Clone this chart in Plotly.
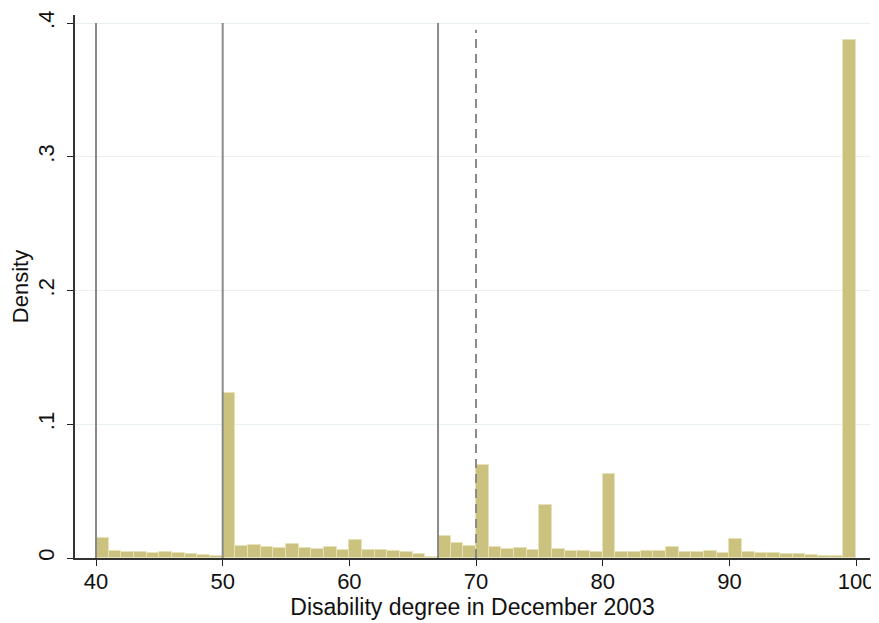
import plotly.graph_objects as go

bin_start = 40
bin_width = 1
density = [
    0.015, 0.005, 0.0045, 0.0043, 0.0041, 0.0045, 0.0038, 0.003, 0.0022, 0.0012,
    0.1235, 0.009, 0.0096, 0.0086, 0.0074, 0.0104, 0.0078, 0.0071, 0.0082, 0.006,
    0.0135, 0.0057, 0.006, 0.0055, 0.0043, 0.003, 0.001, 0.0165, 0.011, 0.0088,
    0.0695, 0.0083, 0.0071, 0.0072, 0.006, 0.0397, 0.0066, 0.0055, 0.0055, 0.0044,
    0.0628, 0.0046, 0.0047, 0.0056, 0.0054, 0.008, 0.0047, 0.0047, 0.005, 0.0039,
    0.014, 0.0042, 0.0036, 0.0035, 0.0028, 0.003, 0.002, 0.0015, 0.0012, 0.3875,
]
solid_lines = [40, 50, 67]
dashed_lines = [70]
x_ticks = [40, 50, 60, 70, 80, 90, 100]
y_ticks = [0, 0.1, 0.2, 0.3, 0.4]
y_tick_labels = ["0", ".1", ".2", ".3", ".4"]

centers = [bin_start + bin_width * (i + 0.5) for i in range(len(density))]

fig = go.Figure()
fig.add_trace(go.Bar(
    x=centers, y=density, width=bin_width,
    marker=dict(color="#CBC27F", line=dict(color="#E6E1B6", width=1)),
    hoverinfo="x+y",
))

for xv in solid_lines:
    fig.add_shape(type="line", x0=xv, x1=xv, y0=0, y1=0.4, xref="x", yref="y",
                  line=dict(color="#8A8A8A", width=2), layer="above")
for xv in dashed_lines:
    fig.add_shape(type="line", x0=xv, x1=xv, y0=0, y1=0.395, xref="x", yref="y",
                  line=dict(color="#8A8A8A", width=2, dash="9px,6px"), layer="above")

font_family = "Liberation Sans, Arial, Helvetica, sans-serif"
fig.update_layout(
    width=871, height=615,
    margin=dict(l=67, r=9, t=7, b=65, autoexpand=False),
    paper_bgcolor="white", plot_bgcolor="white",
    showlegend=False, bargap=0,
    font=dict(family=font_family, size=22, color="#111"),
    xaxis=dict(
        range=[38.342, 101.1], tickvals=x_ticks, ticks="outside", ticklen=6,
        tickcolor="#222", tickwidth=1.2, automargin=False,
        ticklabelstandoff=-3, ticklabeloverflow="allow",
        showline=True, linecolor="#333", linewidth=1.5, showgrid=False, zeroline=False,
        title=dict(text="Disability degree in December 2003", standoff=5,
                   font=dict(size=23)),
        tickfont=dict(size=22),
    ),
    yaxis=dict(
        range=[0, 0.406], tickvals=y_ticks, ticktext=y_tick_labels, tickangle=-90,
        ticks="outside", ticklen=6, tickcolor="#222", tickwidth=1.2, automargin=False,
        ticklabelstandoff=4,
        showline=True, linecolor="#333", linewidth=1.5,
        showgrid=True, gridcolor="#E8F0F2", gridwidth=1, zeroline=False,
        title=dict(text="Density", standoff=12, font=dict(size=22)),
        tickfont=dict(size=22),
    ),
)

fig.write_html("out.html")
